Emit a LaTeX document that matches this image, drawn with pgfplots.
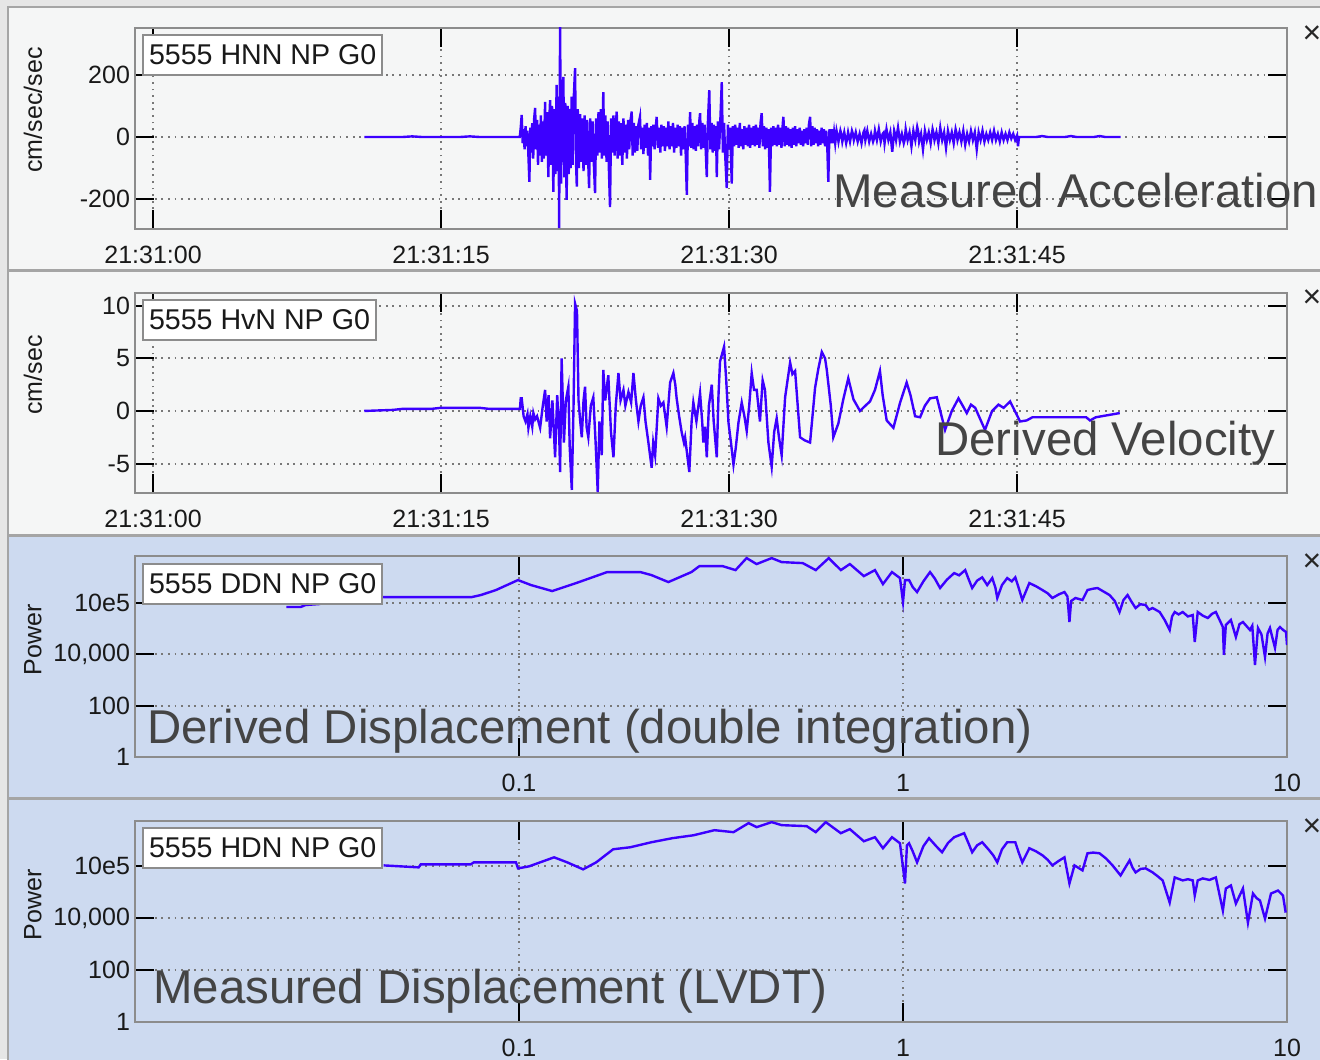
\documentclass[border=0pt]{standalone}
\usepackage{fontspec}
\setmainfont{Liberation Sans}
\usepackage{pgfplots}
\pgfplotsset{compat=1.18}
\definecolor{outerbg}{RGB}{230,230,230}
\definecolor{panelbg}{RGB}{245,246,246}
\definecolor{bluebg}{RGB}{205,218,240}
\definecolor{sig}{RGB}{60,0,255}
\definecolor{frame}{RGB}{140,140,140}
\definecolor{annot}{RGB}{68,68,68}
\definecolor{sep}{RGB}{165,165,165}
\definecolor{gridc}{RGB}{120,120,120}
\pgfplotsset{
  panel/.style={
    scale only axis, width=576pt,
    axis line style={draw=frame, line width=1pt},
    tick align=inside, major tick length=9.5pt,
    major tick style={black, line width=1pt},
    xminorticks=false, yminorticks=false,
    grid=major,
    grid style={draw=gridc, line width=0.9pt, dash pattern=on 0.9pt off 2.4pt},
    tick label style={font=\fontsize{12.5}{14}\selectfont, text=black!90},
    xticklabel style={yshift=-5pt},
    yticklabel style={xshift=1pt},
  },
  timeax/.style={panel, xmin=-0.94, xmax=59.06, xtick={0,15,30,45},
    xticklabels={21:31:00,21:31:15,21:31:30,21:31:45}},
  specax/.style={panel, xmin=0.01, xmax=10, ymin=1,
    xtick={0.1,1,10}, xticklabels={0.1,1,10},
    ytick={1,100,10000,1000000}, yticklabels={1,100,{10,000},10e5}},
}
\begin{document}
\begin{tikzpicture}
\begin{scope}[x=0.5pt,y=-0.5pt]
\fill[outerbg] (0,0) rectangle (1320,1059);
\filldraw[fill=panelbg, draw=sep, line width=1pt] (8,7) rectangle (1324,270);
\filldraw[fill=panelbg, draw=sep, line width=1pt] (8,271) rectangle (1324,535);
\filldraw[fill=bluebg, draw=sep, line width=1pt] (8,536) rectangle (1324,798);
\filldraw[fill=bluebg, draw=sep, line width=1pt] (8,799) rectangle (1324,1064);
\end{scope}

% Panel 1: acceleration
\begin{axis}[timeax, at={(67.5pt,-114.5pt)}, anchor=south west, height=100.5pt,
  ymin=-296.8, ymax=351.6, ytick={-200,0,200}, yticklabels={-200,0,200}]
\addplot[sig, line width=1.2pt] coordinates {
(11,0)(13,0)(13.5,2)(14,0)(16,0)(16.5,2)(17,0)(19.1,0)
(19.15,30)(19.2,71)(19.25,-20)(19.3,25)(19.35,-40)(19.4,35)(19.45,-30)(19.5,20)(19.55,-60)(19.6,-145)
(19.65,30)(19.7,-50)(19.75,45)(19.8,-70)(19.85,60)(19.9,94)(19.95,-40)(20.0,55)(20.05,-90)(20.1,40)
(20.15,-60)(20.2,70)(20.25,-80)(20.3,50)(20.35,-70)(20.42,113)(20.47,-60)(20.52,80)(20.59,-129)(20.64,60)
(20.68,119)(20.73,-90)(20.78,100)(20.85,-177)(20.9,90)(20.95,-120)(21.02,168)(21.07,-110)(21.12,130)(21.15,-294)
(21.2,360)(21.25,-150)(21.3,120)(21.37,194)(21.42,-130)(21.47,110)(21.54,-203)(21.6,100)(21.65,-120)(21.7,90)
(21.75,-100)(21.8,130)(21.85,-90)(21.9,110)(21.98,222)(22.03,-80)(22.07,-160)(22.12,90)(22.18,-100)(22.24,74)
(22.3,-80)(22.36,60)(22.42,-110)(22.48,70)(22.54,-90)(22.6,55)(22.66,-70)(22.71,-165)(22.77,60)(22.83,-80)
(22.9,50)(22.96,-90)(23.02,-181)(23.08,60)(23.14,-60)(23.2,80)(23.26,-50)(23.32,90)(23.38,-70)(23.45,145)
(23.5,-60)(23.56,70)(23.62,-80)(23.68,50)(23.74,-100)(23.8,-226)(23.86,60)(23.92,-50)(23.98,70)(24.04,-60)
(24.1,40)(24.15,82)(24.2,-70)(24.26,50)(24.32,-60)(24.38,45)(24.44,-90)(24.5,60)(24.56,-50)(24.62,40)
(24.68,-70)(24.74,55)(24.8,-40)(24.86,50)(24.93,82)(24.98,-60)(25.04,45)(25.1,-50)(25.16,35)(25.22,-45)
(25.28,40)(25.36,65)(25.42,-40)(25.48,30)(25.54,-55)(25.6,40)(25.66,-35)(25.72,45)(25.78,-60)(25.84,30)
(25.89,-138)(25.95,35)(26.0,-30)(26.06,40)(26.12,-40)(26.18,30)(26.23,65)(26.3,-35)(26.36,30)(26.42,-50)
(26.48,40)(26.54,-30)(26.6,35)(26.66,-45)(26.72,30)(26.78,-30)(26.84,50)(26.9,-40)(26.96,35)(27.02,-30)
(27.08,45)(27.14,-50)(27.2,30)(27.26,-35)(27.32,40)(27.38,-30)(27.44,35)(27.5,-60)(27.56,30)(27.62,-40)
(27.68,35)(27.74,-50)(27.8,-187)(27.86,40)(27.92,-30)(27.97,80)(28.03,-35)(28.09,45)(28.15,-40)(28.21,35)
(28.27,-45)(28.33,40)(28.39,-30)(28.45,50)(28.49,77)(28.55,-40)(28.61,45)(28.67,-35)(28.73,40)(28.79,-50)
(28.84,-129)(28.9,50)(28.97,151)(29.03,-40)(29.09,45)(29.15,-50)(29.21,40)(29.27,-45)(29.32,35)(29.36,-129)
(29.42,50)(29.48,-40)(29.55,60)(29.62,177)(29.68,-50)(29.74,45)(29.8,-60)(29.88,-165)(29.94,40)(30.0,-40)
(30.06,30)(30.14,-150)(30.2,35)(30.26,-30)(30.32,40)(30.38,-25)(30.44,30)(30.5,-35)(30.56,45)(30.62,-30)
(30.68,25)(30.74,-40)(30.8,35)(30.86,-25)(30.92,30)(30.98,-30)(31.04,40)(31.1,-35)(31.16,30)(31.22,-25)
(31.28,35)(31.34,-30)(31.4,40)(31.46,-25)(31.52,30)(31.58,-35)(31.64,45)(31.7,77)(31.76,-30)(31.82,35)
(31.88,-40)(31.94,30)(32.0,-35)(32.06,25)(32.13,-177)(32.19,30)(32.25,-30)(32.31,35)(32.37,-25)(32.43,30)
(32.49,-30)(32.55,40)(32.61,-25)(32.67,30)(32.73,-35)(32.8,45)(32.83,65)(32.9,-30)(32.96,35)(33.02,-25)
(33.08,30)(33.14,-30)(33.2,25)(33.26,-35)(33.32,30)(33.38,-25)(33.44,35)(33.5,-30)(33.56,25)(33.62,-20)
(33.68,30)(33.74,-25)(33.8,20)(33.86,-30)(33.92,25)(33.98,-20)(34.04,30)(34.1,-25)(34.16,40)(34.22,65)
(34.28,-30)(34.34,35)(34.4,-25)(34.46,30)(34.52,-20)(34.58,25)(34.64,-30)(34.7,20)(34.76,-25)(34.82,30)
(34.88,-20)(34.94,25)(35.0,-30)(35.06,20)(35.12,-40)(35.17,-145)(35.23,25)(35.29,-20)(35.35,25)(35.41,-20)
(35.47,15)(35.53,-20)(35.6,20)(35.65,5)(35.7,-15)(35.8,20)(35.85,8)(35.9,-15)(36.0,15)(36.1,-20)(36.15,-5)(36.2,15)(36.3,-15)
(36.4,20)(36.45,10)(36.5,-10)(36.6,15)(36.7,-15)(36.8,10)(36.9,-20)(37.0,15)(37.05,22)(37.1,-10)(37.2,20)(37.3,-15)
(37.4,10)(37.5,-15)(37.55,-5)(37.6,20)(37.7,-10)(37.8,25)(37.9,-15)(38.0,10)(38.05,14)(38.1,-20)(38.2,25)(38.3,-10)
(38.4,15)(38.5,-48)(38.6,20)(38.65,8)(38.7,-10)(38.8,30)(38.9,-15)(39.0,10)(39.1,-20)(39.15,-8)(39.2,25)(39.3,-10)
(39.4,15)(39.5,-30)(39.6,20)(39.7,-10)(39.8,32)(39.85,18)(39.9,-15)(40.0,10)(40.1,-40)(40.2,20)(40.3,-10)
(40.4,15)(40.5,-20)(40.6,25)(40.65,12)(40.7,-10)(40.8,15)(40.9,-20)(41.0,30)(41.1,-10)(41.2,15)(41.3,-35)
(41.4,20)(41.5,-10)(41.6,15)(41.7,-20)(41.8,25)(41.85,12)(41.9,-10)(42.0,15)(42.1,-15)(42.2,20)(42.3,-25)
(42.4,10)(42.5,-15)(42.6,20)(42.65,6)(42.7,-10)(42.8,15)(42.9,-40)(43.0,15)(43.1,-10)(43.2,20)(43.3,-15)
(43.4,10)(43.5,-10)(43.6,15)(43.7,-10)(43.8,20)(43.9,-10)(44.0,10)(44.1,-15)(44.2,15)(44.3,-10)
(44.4,10)(44.5,-10)(44.6,15)(44.7,-5)(44.8,10)(44.9,-10)(45.0,5)(45.05,-30)(45.1,0)
(46,0)(46.3,3)(46.6,0)(47.5,0)(47.8,3)(48.1,0)(49,0)(49.3,3)(49.6,0)(50.4,0)
};
\end{axis}

% Panel 2: velocity
\begin{axis}[timeax, at={(67.5pt,-246.5pt)}, anchor=south west, height=100pt,
  ymin=-7.79, ymax=11.2, ytick={-5,0,5,10}, yticklabels={-5,0,5,10}]
\addplot[sig, line width=1.2pt] coordinates {
(11,0)(12.5,0.1)(13,0.2)(14.5,0.2)(15,0.3)(17,0.3)(17.5,0.2)(19.11,0.2)
(19.15,1.2)(19.2,1.2)(19.3,-0.5)(19.4,-1.0)(19.5,-0.3)(19.55,-1.6)(19.65,-0.5)(19.75,-1.5)(19.81,-0.2)(19.9,-0.8)
(20.0,-0.5)(20.1,-1.2)(20.16,-1.6)(20.3,0.5)(20.42,2.0)(20.5,-1.0)(20.6,1.5)(20.68,-2.6)(20.8,1.0)(20.94,-4.4)
(21.05,1.5)(21.15,-2.0)(21.2,-5.8)(21.28,5.0)(21.4,-3.0)(21.5,1.0)(21.63,2.3)(21.7,-3.4)(21.81,-7.5)(21.9,0.5)
(21.98,10.2)(22.08,9.5)(22.16,1.0)(22.25,-1.0)(22.33,-2.5)(22.42,1.0)(22.5,2.3)(22.58,-1.5)(22.67,-2.5)(22.8,0.5)
(22.93,1.3)(23.05,-3.0)(23.16,-7.7)(23.25,-1.0)(23.37,-4.2)(23.45,3.9)(23.55,1.0)(23.71,3.4)(23.85,-2.0)(23.98,-4.4)
(24.1,0.5)(24.24,3.6)(24.35,1.0)(24.5,2.0)(24.6,0.5)(24.76,1.8)(24.9,0.8)(25.02,3.6)(25.15,1.0)(25.28,-1.0)
(25.4,0.5)(25.54,1.3)(25.65,-1.0)(25.8,-3.0)(25.97,-5.4)(26.05,-3.0)(26.15,-4.2)(26.32,1.2)(26.45,0.5)(26.58,0.8)
(26.75,-1.5)(26.93,2.7)(27.10,3.6)(27.2,2.5)(27.27,1.2)(27.4,-0.5)(27.53,-2.0)(27.65,-3.0)(27.71,-2.5)(27.93,-5.8)
(28.05,-1.0)(28.14,0.8)(28.3,-1.0)(28.49,1.7)(28.6,-1.0)(28.66,-3.0)(28.75,-1.5)(28.84,-4.4)(28.95,0.5)(29.10,2.5)
(29.2,-1.0)(29.36,-4.4)(29.45,1.5)(29.53,4.7)(29.74,6.1)(29.85,3.0)(29.97,-1.1)(30.1,-3.0)(30.23,-5.1)(30.35,-3.5)
(30.49,-1.1)(30.66,0.8)(30.8,-0.5)(30.92,-1.9)(31.05,0.5)(31.18,3.6)(31.3,2.0)(31.44,2.0)(31.61,-1.0)(31.75,2.9)
(31.87,2.0)(32.05,-3.0)(32.22,-5.3)(32.35,-2.0)(32.48,-0.7)(32.6,-2.5)(32.74,-4.2)(32.92,1.3)(33.18,4.6)(33.3,3.5)
(33.44,3.8)(33.7,-2.5)(33.95,-2.8)(34.22,-3.0)(34.48,2.2)(34.65,4.0)(34.83,5.6)(35.0,5.0)(35.09,3.9)(35.3,0.5)
(35.43,-2.5)(35.69,-1.2)(35.95,1.1)(36.21,3.1)(36.48,1.1)(36.82,0.0)(37.1,0.5)(37.34,0.9)(37.6,2.0)(37.86,3.8)
(38.0,1.5)(38.21,-0.9)(38.56,-1.6)(38.91,0.8)(39.25,2.7)(39.45,1.5)(39.69,-0.5)(39.95,-0.6)(40.2,0.5)(40.47,1.2)
(40.82,1.3)(41.25,-1.8)(41.6,0.0)(41.95,1.2)(42.2,0.4)(42.38,-0.2)(42.6,0.6)(42.82,0.3)(43.33,-1.8)(43.7,0.0)
(44.03,0.6)(44.3,0.3)(44.64,0.9)(45.16,-1.0)(45.5,-0.9)(45.8,-0.6)(48.6,-0.6)(48.8,-0.9)(49.1,-0.6)(50.35,-0.2)
};
\end{axis}

% Panel 3: derived displacement spectrum
\begin{axis}[xmode=log, ymode=log, specax, at={(67.5pt,-378.5pt)}, anchor=south west, height=100.5pt, ymax=6.8e7]
\addplot[sig, line width=1.2pt] coordinates {
(0.0248,6.98e5)(0.0270,6.98e5)(0.0278,8.36e5)(0.0302,9.15e5)(0.0308,3.2e6)(0.0444,1.71e6)(0.0754,1.71e6)
(0.0796,2.05e6)(0.0871,3.21e6)(0.0994,7.85e6)(0.1075,5.01e6)(0.1220,2.93e6)(0.1409,6.0e6)(0.1697,1.61e7)
(0.2070,1.61e7)(0.2212,1.23e7)(0.2449,6.56e6)(0.2812,1.61e7)(0.2951,2.75e7)(0.3388,2.75e7)(0.3664,1.92e7)
(0.3915,5.64e7)(0.4157,3.3e7)(0.4550,5.64e7)(0.4831,3.94e7)(0.5481,3.6e7)(0.5927,1.92e7)(0.6407,5.64e7)
(0.6888,1.92e7)(0.7271,3.3e7)(0.7909,1.12e7)(0.8452,1.92e7)(0.8867,5.48e6)(0.9361,1.61e7)(0.982,9.4e6)
(1.0,1.1e6)(1.012,7.85e6)(1.037,7.85e6)(1.06,4.2e6)(1.088,2.68e6)(1.13,7.0e6)(1.176,1.61e7)(1.21,9.0e6)(1.249,3.84e6)(1.30,8.0e6)(1.359,1.47e7)
(1.40,1.2e7)(1.452,1.92e7)(1.48,9.0e6)(1.514,3.84e6)(1.56,7.5e6)(1.608,1.0e7)(1.657,5.01e6)(1.708,9.4e6)(1.74,4.0e6)(1.760,1.57e6)(1.81,5.0e6)(1.868,9.4e6)
(1.92,7.0e6)(1.961,1.0e7)(2.00,4.0e6)(2.045,1.31e6)(2.133,6.0e6)(2.22,4.5e6)(2.307,3.21e6)(2.38,2.4e6)(2.449,1.57e6)(2.55,2.2e6)(2.633,2.68e6)(2.68,1.8e6)(2.713,1.82e5)
(2.74,1.2e6)(2.813,1.57e6)(2.934,1.31e6)(3.023,3.21e6)(3.12,3.6e6)(3.211,3.84e6)(3.33,2.8e6)(3.451,2.05e6)(3.56,1.2e6)(3.664,4.47e5)(3.75,1.3e6)(3.845,2.05e6)
(3.94,1.1e6)(4.034,6.38e5)(4.15,9.0e5)(4.284,8.36e5)(4.37,5.5e5)(4.468,6.38e5)(4.660,4.47e5)(4.802,2.18e5)(4.948,8.9e4)(5.02,3.0e5)(5.100,4.47e5)
(5.22,3.6e5)(5.351,4.47e5)(5.52,3.0e5)(5.683,3.41e5)(5.751,3.03e4)(5.855,4.47e5)(6.04,3.2e5)(6.219,2.61e5)(6.38,3.8e5)(6.527,4.47e5)(6.808,1.16e5)
(6.849,9.5e3)(6.93,1.39e5)(7.143,2.18e5)(7.361,4.75e4)(7.52,1.5e5)(7.678,1.82e5)(8.008,8.9e4)(8.12,1.3e5)(8.253,3.87e3)
(8.403,1.06e5)(8.58,6.0e4)(8.764,7.9e3)(8.90,6.5e4)(9.029,1.06e5)(9.305,1.77e4)(9.45,9.0e4)(9.588,1.16e5)(9.76,9.0e4)(9.94,7.45e4)(10.0,2.32e4)
};
\end{axis}

% Panel 4: measured displacement spectrum
\begin{axis}[xmode=log, ymode=log, specax, at={(67.5pt,-511pt)}, anchor=south west, height=100.5pt, ymax=5.6e7]
\addplot[sig, line width=1.2pt] coordinates {
(0.0444,1.09e6)(0.0548,9.15e5)(0.0555,1.2e6)(0.0749,1.2e6)(0.0763,1.43e6)(0.0982,1.43e6)(0.0994,8.36e5)
(0.1062,1.0e6)(0.1234,2.23e6)(0.1335,1.43e6)(0.1469,7.66e5)(0.1589,1.43e6)(0.1759,4.56e6)(0.1949,5.45e6)
(0.2212,8.51e6)(0.2509,1.22e7)(0.2847,1.58e7)(0.3229,2.48e7)(0.3620,2.08e7)(0.3962,4.65e7)(0.4157,3.25e7)
(0.4550,5.07e7)(0.4831,3.88e7)(0.5615,3.55e7)(0.5927,2.08e7)(0.6292,5.07e7)(0.6888,1.9e7)(0.7271,2.72e7)
(0.7909,9.3e6)(0.8452,1.33e7)(0.8867,4.99e6)(0.9361,1.33e7)(0.982,7.78e6)(1.012,2.19e5)(1.024,6.51e6)
(1.037,7.78e6)(1.06,3.8e6)(1.088,1.43e6)(1.13,6.0e6)(1.169,1.22e7)(1.22,6.0e6)(1.264,3.49e6)(1.31,8.0e6)(1.359,1.33e7)(1.443,1.9e7)(1.48,8.0e6)(1.514,3.49e6)
(1.56,6.5e6)(1.608,8.51e6)(1.677,4.17e6)(1.72,2.6e6)(1.760,1.43e6)(1.81,4.5e6)(1.868,8.51e6)(1.961,8.51e6)(2.00,3.5e6)(2.045,1.43e6)(2.133,4.99e6)
(2.22,3.8e6)(2.307,2.67e6)(2.38,1.8e6)(2.449,1.09e6)(2.54,1.6e6)(2.633,2.23e6)(2.713,2.19e5)(2.796,1.09e6)(2.934,7.0e5)(3.023,3.19e6)
(3.13,3.4e6)(3.250,3.19e6)(3.38,2.0e6)(3.513,1.09e6)(3.686,4.48e5)(3.892,1.71e6)(3.96,9.0e5)(4.034,5.85e5)(4.16,8.0e5)(4.284,8.36e5)(4.468,5.85e5)
(4.60,4.2e5)(4.745,2.87e5)(4.948,4.03e4)(5.100,3.75e5)(5.351,2.87e5)(5.52,3.2e5)(5.683,2.87e5)(5.751,7.52e4)(5.855,2.87e5)
(6.035,3.43e5)(6.28,3.0e5)(6.527,3.75e5)(6.808,1.97e4)(6.93,1.4e5)(7.143,1.84e5)(7.361,3.68e4)(7.678,1.4e5)
(7.913,6.75e3)(8.154,8.98e4)(8.33,6.0e4)(8.505,4.81e4)(8.764,9.64e3)(9.084,8.98e4)(9.474,1.17e5)(9.763,7.52e4)(9.92,1.65e4)
};
\end{axis}

\begin{scope}[x=0.5pt,y=-0.5pt]
\tikzset{lab/.style={draw=frame, fill=white, line width=1pt, inner xsep=3pt, inner ysep=0pt,
  minimum height=20pt, anchor=north west, font=\fontsize{14.3}{16}\selectfont, text=black!90},
  ylab/.style={rotate=90, font=\fontsize{12.5}{14}\selectfont, text=black!90},
  big/.style={anchor=base west, inner sep=0pt, font=\fontsize{23.7}{28}\selectfont, text=annot},
  cls/.style={font=\fontsize{16}{16}\selectfont, text=black!85}}
\node[lab] at (142,34) {5555 HNN NP G0};
\node[lab] at (142,299) {5555 HvN NP G0};
\node[lab] at (142,563) {5555 DDN NP G0};
\node[lab] at (142,827) {5555 HDN NP G0};
\node[ylab] at (33,110) {cm/sec/sec};
\node[ylab] at (33,375) {cm/sec};
\node[ylab] at (33,640) {Power};
\node[ylab] at (33,905) {Power};
\node[cls] at (1312,35) {×};
\node[cls] at (1312,299) {×};
\node[cls] at (1312,563) {×};
\node[cls] at (1312,828) {×};
\node[big] at (833,207) {Measured Acceleration};
\node[big] at (935,455) {Derived Velocity};
\node[big] at (147,743) {Derived Displacement (double integration)};
\node[big] at (153,1003) {Measured Displacement (LVDT)};
\pgfresetboundingbox
\path[use as bounding box] (0,0) rectangle (1320,1059);
\end{scope}
\end{tikzpicture}
\end{document}
